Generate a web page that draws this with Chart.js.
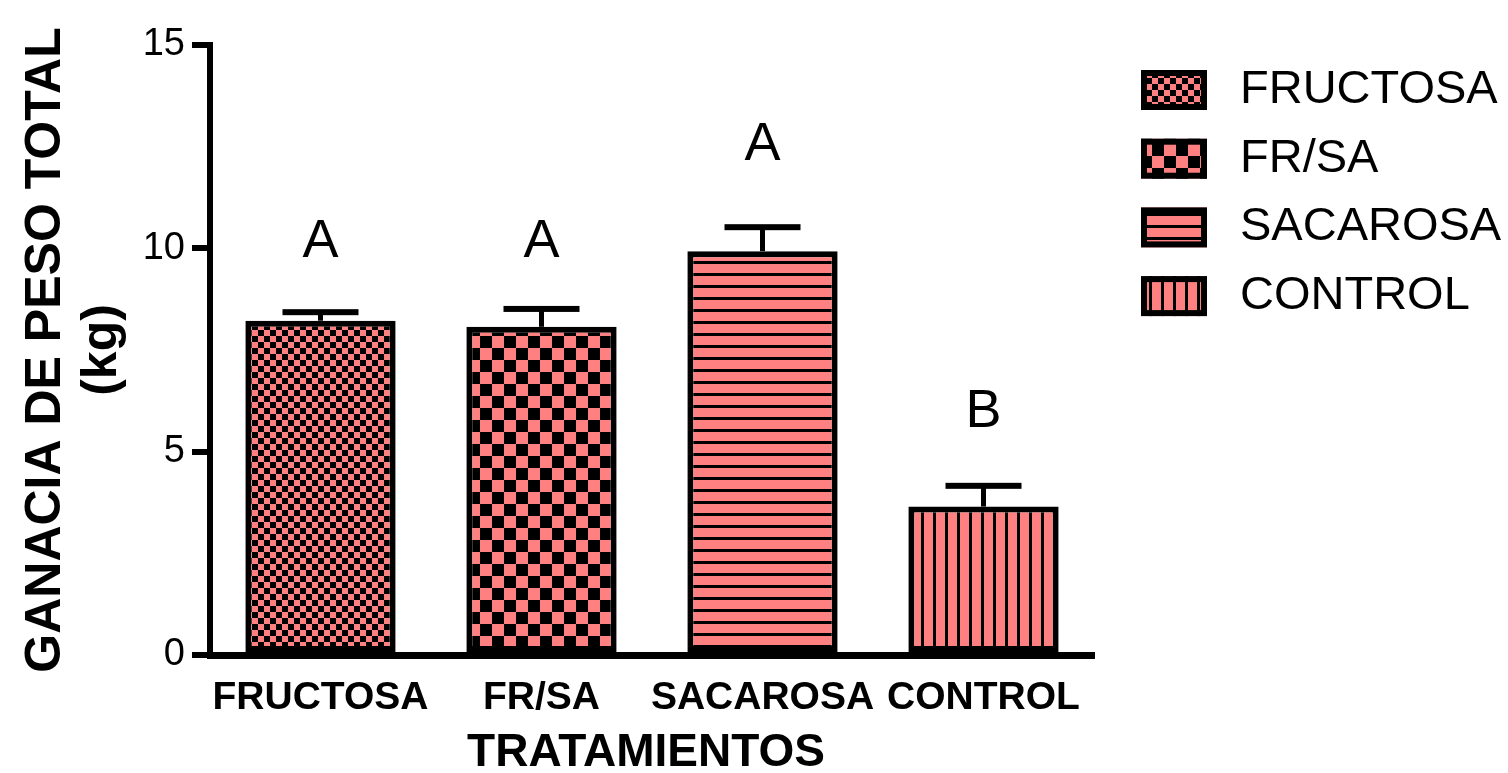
<!DOCTYPE html>
<html>
<head>
<meta charset="utf-8">
<title>Ganancia de peso total por tratamiento</title>
<script src="https://cdn.jsdelivr.net/npm/chart.js@4.4.1/dist/chart.umd.min.js"></script>
<style>
  html, body { margin: 0; padding: 0; background: #ffffff; }
  canvas { display: block; }
</style>
</head>
<body>
<canvas id="chart" width="1508" height="773"></canvas>
<script>
// Treatments and measured total weight gain (kg), mean and SEM
const categories = ['FRUCTOSA', 'FR/SA', 'SACAROSA', 'CONTROL'];
const meanGain = [8.22, 8.07, 9.93, 3.65];
const semGain = [0.21, 0.44, 0.59, 0.51];
// Significance groups and the level (kg) where each letter sits
const groupLetters = ['A', 'A', 'A', 'B'];
const letterLevel = [10.16, 10.16, 12.54, 5.98];
const yTicks = [0, 5, 10, 15];

const FONT = "'Liberation Sans', Arial, Helvetica, sans-serif";
const PINK = '#FF8080';

const canvas = document.getElementById('chart');
const ctx = canvas.getContext('2d');

function makePattern(w, h, paint) {
  const c = document.createElement('canvas');
  c.width = w; c.height = h;
  const g = c.getContext('2d');
  g.fillStyle = PINK;
  g.fillRect(0, 0, w, h);
  g.fillStyle = '#000000';
  paint(g);
  return ctx.createPattern(c, 'repeat');
}
function checker(cell) {
  return makePattern(cell * 2, cell * 2, g => {
    g.fillRect(0, 0, cell, cell);
    g.fillRect(cell, cell, cell, cell);
  });
}
const fills = [
  checker(6),
  checker(12),
  makePattern(12, 12, g => g.fillRect(0, 9, 12, 3)),   // horizontal stripes
  makePattern(12, 12, g => g.fillRect(9, 0, 3, 12))    // vertical stripes
];

const annotate = {
  id: 'annotate',
  afterDatasetsDraw(chart) {
    const c = chart.ctx;
    const y = chart.scales.y;
    const meta = chart.getDatasetMeta(0);
    c.save();
    c.fillStyle = '#000000';
    meta.data.forEach((bar, i) => {
      const top = y.getPixelForValue(meanGain[i]);
      const cap = y.getPixelForValue(meanGain[i] + semGain[i]);
      c.fillRect(bar.x - 2.5, cap, 5, top - cap);
      c.fillRect(bar.x - 38, cap - 3, 76, 6);
    });
    // group letters
    c.font = '54px ' + FONT;
    c.textAlign = 'center';
    c.textBaseline = 'middle';
    meta.data.forEach((bar, i) => {
      c.fillText(groupLetters[i], bar.x, y.getPixelForValue(letterLevel[i]));
    });
    c.restore();
  },
  afterDraw(chart) {
    const c = chart.ctx;
    const area = chart.chartArea;
    c.save();
    c.fillStyle = '#000000';
    // x axis title
    c.font = 'bold 46px ' + FONT;
    c.textAlign = 'center';
    c.textBaseline = 'alphabetic';
    c.fillText('TRATAMIENTOS', (area.left + area.right) / 2 - 6, 766);
    // y axis title, two lines rotated
    const midY = (area.top + area.bottom) / 2;
    c.font = 'bold 50px ' + FONT;
    c.save();
    c.translate(60, midY);
    c.rotate(-Math.PI / 2);
    c.fillText('GANACIA DE PESO TOTAL', 0, 0);
    c.restore();
    c.save();
    c.translate(116, midY);
    c.rotate(-Math.PI / 2);
    c.fillText('(kg)', 0, 0);
    c.restore();
    // legend
    c.font = '47px ' + FONT;
    c.textAlign = 'left';
    c.textBaseline = 'middle';
    categories.forEach((name, i) => {
      const bx = 1141, by = 70 + i * 68.7, bw = 66, bh = 40;
      c.fillStyle = fills[i];
      c.fillRect(bx, by, bw, bh);
      c.strokeStyle = '#000000';
      c.lineWidth = 6;
      c.strokeRect(bx + 3, by + 3, bw - 6, bh - 6);
      c.fillStyle = '#000000';
      c.fillText(name, 1240, by + bh / 2);
    });
    c.restore();
  }
};

new Chart(ctx, {
  type: 'bar',
  data: {
    labels: categories,
    datasets: [{
      label: 'GANACIA DE PESO TOTAL (kg)',
      data: meanGain,
      backgroundColor: fills,
      borderColor: '#000000',
      borderWidth: 6,
      borderSkipped: false,
      barPercentage: 0.68,
      categoryPercentage: 1.0
    }]
  },
  options: {
    responsive: false,
    animation: false,
    devicePixelRatio: 1,
    layout: { padding: { left: 0, right: 414, top: 45, bottom: 0 } },
    plugins: {
      legend: { display: false },
      tooltip: { enabled: false }
    },
    scales: {
      x: {
        afterFit(scale) { scale.height = 118; },
        grid: { display: false, drawTicks: false },
        border: { display: true, width: 7, color: '#000000' },
        ticks: {
          color: '#000000',
          padding: 20,
          maxRotation: 0,
          autoSkip: false,
          font: { family: FONT, size: 39, weight: 'bold', lineHeight: 1.2 }
        }
      },
      y: {
        min: 0,
        max: 15,
        afterFit(scale) { scale.width = 210; },
        afterBuildTicks(scale) { scale.ticks = yTicks.map(v => ({ value: v })); },
        grid: {
          display: true,
          drawOnChartArea: false,
          drawTicks: true,
          tickLength: 18,
          lineWidth: 6,
          color: '#000000'
        },
        border: { display: true, width: 6, color: '#000000' },
        ticks: {
          color: '#000000',
          padding: 7,
          font: { family: FONT, size: 38 }
        }
      }
    }
  },
  plugins: [annotate]
});
</script>
</body>
</html>
